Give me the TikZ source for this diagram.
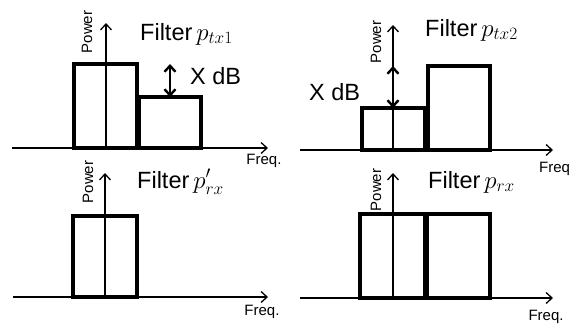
\documentclass[tikz,border=0pt]{standalone}
\usepackage{fontspec}
\setmainfont{Liberation Sans}
\usetikzlibrary{arrows.meta}
\begin{document}
\begin{tikzpicture}[x=1pt,y=-1pt,
  axisline/.style={line width=1.3pt,-{Straight Barb[length=6pt,width=11pt,line width=1.3pt]}},
  bar/.style={draw,line width=3.2pt,inner sep=0pt,outer sep=0pt},
  dbarrow/.style={line width=2.6pt,{Straight Barb[length=6pt,width=11pt,line width=2.4pt]}-{Straight Barb[length=6pt,width=11pt,line width=2.4pt]}},
  bigtext/.style={font=\fontsize{23.5}{27}\selectfont,inner sep=0pt},
  smalltext/.style={font=\fontsize{15}{18}\selectfont,inner sep=0pt}
]
\useasboundingbox (0,0) rectangle (570,325);

% ---------- top left ----------
\coordinate (ha1) at (12,148);
\coordinate (he1) at (268,148);
\coordinate (va1) at (106,148);
\coordinate (ve1) at (106,23);
\node[bar,minimum width=63,minimum height=84] (b1) at (105.5,106) {};
\node[bar,minimum width=62,minimum height=51] (b2) at (170,122.5) {};
\draw[axisline] (ha1) -- (he1);
\draw[axisline] (va1) -- (ve1);
\draw[dbarrow] (b2.north) -- (b2.north |- b1.north);
\node[bigtext,anchor=base west] (t1) at (140,40) {Filter\,$p_{tx1}$};
\node[bigtext,anchor=base west] (x1) at (190,84) {X dB};
\node[smalltext,rotate=90] (pw1) at (87,32) {Power};
\node[smalltext] (f1) at (264,161) {Freq.};

% ---------- top right ----------
\coordinate (ha2) at (300,150);
\coordinate (he2) at (553,150);
\coordinate (va2) at (393,150);
\coordinate (ve2) at (393,25);
\node[bar,minimum width=63,minimum height=42] (b3) at (393.5,129) {};
\node[bar,minimum width=62,minimum height=84] (b4) at (459,108) {};
\draw[axisline] (ha2) -- (he2);
\draw[axisline] (va2) -- (ve2);
\draw[dbarrow] (b3.north -| va2) -- (b4.north -| va2);
\node[bigtext,anchor=base west] (t2) at (425,36) {Filter\,$p_{tx2}$};
\node[bigtext,anchor=base west] (x2) at (309,100) {X dB};
\node[smalltext,rotate=90] (pw2) at (376,42) {Power};
\node[smalltext,anchor=west] (f2) at (539,169) {Freq};

% ---------- bottom left ----------
\coordinate (ha3) at (13,297);
\coordinate (he3) at (268,297);
\coordinate (va3) at (105,297);
\coordinate (ve3) at (105,173);
\node[bar,minimum width=64,minimum height=81] (b5) at (105,256.5) {};
\draw[axisline] (ha3) -- (he3);
\draw[axisline] (va3) -- (ve3);
\node[bigtext,anchor=base west] (t3) at (137,188) {Filter\,$p'_{rx}$};
\node[smalltext,rotate=90] (pw3) at (88,182) {Power};
\node[smalltext] (f3) at (262,312) {Freq.};

% ---------- bottom right ----------
\coordinate (ha4) at (300,298);
\coordinate (he4) at (553,298);
\coordinate (va4) at (393,298);
\coordinate (ve4) at (393,173);
\node[bar,minimum width=65,minimum height=84] (b6) at (392.5,256) {};
\node[bar,minimum width=63,minimum height=84] (b7) at (458.5,256) {};
\draw[axisline] (ha4) -- (he4);
\draw[axisline] (va4) -- (ve4);
\node[bigtext,anchor=base west] (t4) at (428,188) {Filter\,$p_{rx}$};
\node[smalltext,rotate=90] (pw4) at (376,190) {Power};
\node[smalltext] (f4) at (546,317) {Freq.};
\end{tikzpicture}
\end{document}
